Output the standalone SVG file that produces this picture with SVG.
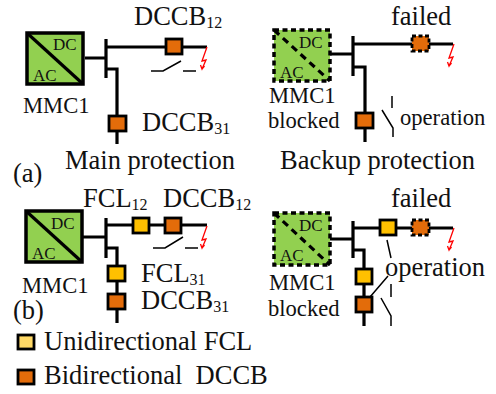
<svg xmlns="http://www.w3.org/2000/svg" width="496" height="394" viewBox="0 0 496 394">
<style>
text{font-family:"Liberation Serif","Times New Roman",serif;fill:#111}
.t{font-size:26.500px}.m{font-size:22.600px}.ac{font-size:17px}.sub{font-size:16px}
.w{fill:none;stroke:#000;stroke-width:3.2}
.n{fill:none;stroke:#000;stroke-width:1.5}
.mmc{fill:#92d050;stroke:#000;stroke-width:3.5}
.blk{fill:#92d050;stroke:#000;stroke-width:3.5;stroke-dasharray:5 3.5}
.dg{fill:none;stroke:#000;stroke-width:3.2}
.dgb{fill:none;stroke:#000;stroke-width:3.2;stroke-dasharray:7 5}
.dccb{fill:#e36c0a;stroke:#000;stroke-width:2.8}
.dccbf{fill:#e36c0a;stroke:#000;stroke-width:2.8;stroke-dasharray:4 2.500}
.fcl{fill:#ffc000;stroke:#000;stroke-width:2.8}
.fcll{fill:#ffd966;stroke:#000;stroke-width:2.8}
.f{fill:none;stroke:#f00;stroke-width:1.3}
</style>
<defs>
<path id="fault" class="f" d="M0 0L-5 14L-1 13L-5 22L-6.500 18M-5 22L-2.500 19"/>
</defs>
<g id="connectors">
<path class="w" d="M85 58H106M106 39V78M106 47H207M106 69H117V144"/>
<path class="n" d="M151 71H163L181 61M183 71H196"/>
<path class="w" d="M330 54H353M353 36V76M353 44H453M353 67H365V142"/>
<path class="n" d="M392 96V108M382 110L393 128V137"/>
<path class="w" d="M83 237H106M106 218V258M106 225H207M106 248H117V323"/>
<path class="n" d="M153 248H165L183 237M185 248H198"/>
<path class="w" d="M330 239H353M353 221V258M353 228H453M353 250H364V326"/>
<path class="n" d="M387 240L391 258M370 297L388 276M391 284V297M381 298L391 316V326"/>
</g>
<use href="#fault" x="207" y="47"/>
<use href="#fault" x="454" y="44"/>
<use href="#fault" x="454" y="228"/>
<use href="#fault" x="207" y="226"/>
<g id="mmc1-a"><rect class="mmc" x="27" y="33" width="56" height="51"/><path class="dg" d="M27 33L83 84"/><text class="ac" x="53" y="50">DC</text><text class="ac" x="33" y="81">AC</text></g>
<g id="mmc1-a-blocked"><rect class="blk" x="274" y="30" width="56" height="51"/><path class="dgb" d="M274 30L330 81"/><text class="ac" x="299" y="48">DC</text><text class="ac" x="280" y="78">AC</text></g>
<g id="mmc1-b"><rect class="mmc" x="26" y="211" width="56" height="51"/><path class="dg" d="M26 211L82 262"/><text class="ac" x="51" y="229">DC</text><text class="ac" x="32" y="259">AC</text></g>
<g id="mmc1-b-blocked"><rect class="blk" x="274" y="213" width="56" height="52"/><path class="dgb" d="M274 213L330 265"/><text class="ac" x="299" y="231">DC</text><text class="ac" x="280" y="261">AC</text></g>
<g id="dccb12-a"><rect class="dccb" x="166" y="39" width="16" height="15"/></g>
<g id="dccb31-a"><rect class="dccb" x="109" y="116" width="17" height="15"/></g>
<g id="dccb12-a2"><rect class="dccbf" x="412" y="36" width="17" height="15"/></g>
<g id="dccb31-a2"><rect class="dccb" x="356" y="113" width="17" height="15"/></g>
<g id="fcl12-b"><rect class="fcl" x="133" y="218" width="16" height="15"/></g>
<g id="dccb12-b"><rect class="dccb" x="165" y="218" width="16" height="15"/></g>
<g id="fcl31-b"><rect class="fcl" x="108" y="266" width="17" height="15"/></g>
<g id="dccb31-b"><rect class="dccb" x="108" y="294" width="17" height="15"/></g>
<g id="fcl12-b2"><rect class="fcl" x="380" y="220" width="16" height="15"/></g>
<g id="dccb12-b2"><rect class="dccbf" x="412" y="220" width="17" height="15"/></g>
<g id="fcl31-b2"><rect class="fcl" x="356" y="269" width="16" height="15"/></g>
<g id="dccb31-b2"><rect class="dccb" x="356" y="297" width="16" height="15"/></g>
<g id="legend-fcl"><rect class="fcll" x="18" y="335" width="16" height="14"/></g>
<g id="legend-dccb"><rect class="dccb" x="18" y="370" width="16" height="14"/></g>
<g id="labels">
<text class="t" x="134" y="25">DCCB<tspan class="sub" dy="3">12</tspan></text>
<text class="m" x="23" y="113">MMC1</text>
<text class="t" x="142" y="131">DCCB<tspan class="sub" dy="3">31</tspan></text>
<text class="t" x="65" y="169">Main protection</text>
<text class="t" x="13" y="182">(a)</text>
<text class="t" x="391" y="25">failed</text>
<text class="m" x="269" y="103">MMC1</text>
<text class="m" x="268" y="128">blocked</text>
<text class="m" x="400" y="125">operation</text>
<text class="t" x="280" y="169">Backup protection</text>
<text class="t" x="83" y="207">FCL<tspan class="sub" dy="3">12</tspan></text>
<text class="t" x="163" y="207">DCCB<tspan class="sub" dy="3">12</tspan></text>
<text class="m" x="22" y="293">MMC1</text>
<text class="t" x="13" y="319">(b)</text>
<text class="t" x="141" y="282">FCL<tspan class="sub" dy="3">31</tspan></text>
<text class="t" x="141" y="309">DCCB<tspan class="sub" dy="3">31</tspan></text>
<text class="t" x="391" y="207">failed</text>
<text class="m" x="269" y="290">MMC1</text>
<text class="m" x="268" y="316">blocked</text>
<text class="t" x="385" y="276">operation</text>
<text class="t" x="44" y="350">Unidirectional FCL</text>
<text class="t" x="44" y="384" xml:space="preserve">Bidirectional  DCCB</text>
</g>
</svg>
